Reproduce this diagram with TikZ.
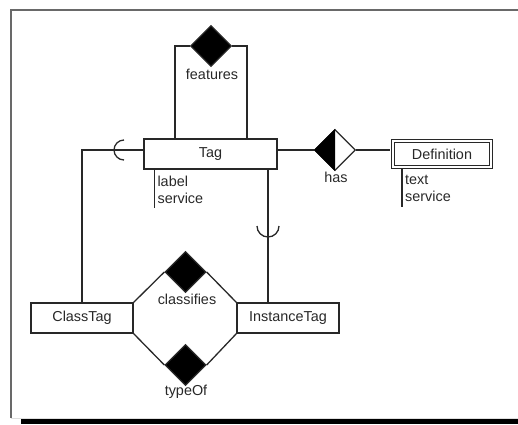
\documentclass[tikz,border=0pt]{standalone}
\usepackage{fontspec}
\setmainfont{Liberation Sans}
\usetikzlibrary{shapes.geometric}
\definecolor{ink}{RGB}{40,40,40}
\definecolor{frame}{RGB}{105,105,105}

\tikzset{
  entity/.style={draw=ink, line width=1.3pt, fill=white, minimum width=102pt, minimum height=30pt, inner sep=0pt},
  rel/.style={diamond, draw=ink, line width=1.3pt, fill=black, minimum size=41pt, inner sep=0pt},
  attr/.style={align=left, inner xsep=3pt, inner ysep=0pt, anchor=north west},
  conn/.style={draw=ink, line width=1.3pt},
}

\begin{document}
\begin{tikzpicture}[x=1pt,y=-1pt,font=\fontsize{14.4}{17}\selectfont,text=ink]
\useasboundingbox (0,0) rectangle (518,424);
% page frame with its shadow
\fill[black] (21,419) rectangle (518,424);
\draw[frame, line width=2pt] (518,10) -- (11,10) -- (11,418);
\draw[gray!25, line width=1pt] (11,418) -- (518,418);

% entities
\node[entity, minimum width=133pt] (tag) at (210.5,154) {Tag};
\node[entity, double, double distance=1.3pt, minimum width=98pt, minimum height=26pt] (definition) at (442,154) {Definition};
\node[entity] (classtag) at (82,318) {ClassTag};
\node[entity] (instancetag) at (288,318) {InstanceTag};

% relationships
\node[rel] (features) at (211,46) {};
\node[rel, fill=white] (has) at (335,150) {};
\fill[black] (has.north) -- (has.west) -- (has.south) -- cycle;
\node[rel] (classifies) at (185.5,272) {};
\node[rel] (typeof) at (185.5,365) {};

\node (featureslbl) at (212,74) {features};
\node (haslbl) at (336,177) {has};
\node (classifieslbl) at (187,299) {classifies};
\node (typeoflbl) at (186,392) {typeOf};

% features loop on Tag
\draw[conn] ([xshift=-35.5pt]tag.north) |- (features.west);
\draw[conn] ([xshift=36.5pt]tag.north) |- (features.east);

% subsets of Tag
\coordinate (cl) at (124,150);
\coordinate (cu) at (268,226);
\draw[conn] (tag.west |- has) -| (classtag.north);
\draw[conn] ([yshift=-10pt]cl) arc[start angle=90, end angle=270, radius=10];
\draw[conn] (tag.south -| cu) -- (instancetag.north -| cu);
\draw[conn] ([xshift=11pt]cu) arc[start angle=0, end angle=180, radius=11];

% has
\draw[conn] (tag.east |- has) -- (has.west);
\draw[conn] (has.east) -- ([xshift=-1.9pt]definition.west |- has);

% classifies / typeOf
\draw[conn] (classtag.north east) -- (classifies.west);
\draw[conn] (classifies.east) -- (instancetag.north west);
\draw[conn] (classtag.south east) -- (typeof.west);
\draw[conn] (typeof.east) -- (instancetag.south west);

% attributes
\node[attr] (tagattr) at ([xshift=11pt,yshift=-6pt]tag.south west) {label\\service};
\draw[conn] ([xshift=11pt]tag.south west) -- ++(0,38);
\node[attr] (defattr) at (402,175) {text\\service};
\draw[conn] (402,169) -- ++(0,38);
\end{tikzpicture}
\end{document}
